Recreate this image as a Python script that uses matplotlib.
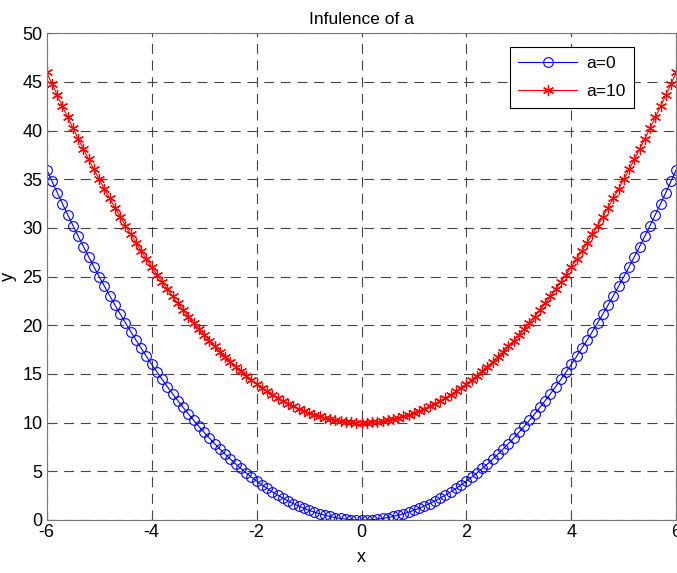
import matplotlib
matplotlib.use("Agg")
import matplotlib.pyplot as plt

plt.rcParams['font.family'] = ['Liberation Sans', 'DejaVu Sans']

# x from -6 to 6, step 0.1
x = [-6.0, -5.9, -5.8, -5.7, -5.6, -5.5, -5.4, -5.3, -5.2, -5.1,
     -5.0, -4.9, -4.8, -4.7, -4.6, -4.5, -4.4, -4.3, -4.2, -4.1,
     -4.0, -3.9, -3.8, -3.7, -3.6, -3.5, -3.4, -3.3, -3.2, -3.1,
     -3.0, -2.9, -2.8, -2.7, -2.6, -2.5, -2.4, -2.3, -2.2, -2.1,
     -2.0, -1.9, -1.8, -1.7, -1.6, -1.5, -1.4, -1.3, -1.2, -1.1,
     -1.0, -0.9, -0.8, -0.7, -0.6, -0.5, -0.4, -0.3, -0.2, -0.1,
     0.0,
     0.1, 0.2, 0.3, 0.4, 0.5, 0.6, 0.7, 0.8, 0.9, 1.0,
     1.1, 1.2, 1.3, 1.4, 1.5, 1.6, 1.7, 1.8, 1.9, 2.0,
     2.1, 2.2, 2.3, 2.4, 2.5, 2.6, 2.7, 2.8, 2.9, 3.0,
     3.1, 3.2, 3.3, 3.4, 3.5, 3.6, 3.7, 3.8, 3.9, 4.0,
     4.1, 4.2, 4.3, 4.4, 4.5, 4.6, 4.7, 4.8, 4.9, 5.0,
     5.1, 5.2, 5.3, 5.4, 5.5, 5.6, 5.7, 5.8, 5.9, 6.0]

y_a0 = [36.0, 34.81, 33.64, 32.49, 31.36, 30.25, 29.16, 28.09, 27.04, 26.01,
        25.0, 24.01, 23.04, 22.09, 21.16, 20.25, 19.36, 18.49, 17.64, 16.81,
        16.0, 15.21, 14.44, 13.69, 12.96, 12.25, 11.56, 10.89, 10.24, 9.61,
        9.0, 8.41, 7.84, 7.29, 6.76, 6.25, 5.76, 5.29, 4.84, 4.41,
        4.0, 3.61, 3.24, 2.89, 2.56, 2.25, 1.96, 1.69, 1.44, 1.21,
        1.0, 0.81, 0.64, 0.49, 0.36, 0.25, 0.16, 0.09, 0.04, 0.01,
        0.0,
        0.01, 0.04, 0.09, 0.16, 0.25, 0.36, 0.49, 0.64, 0.81, 1.0,
        1.21, 1.44, 1.69, 1.96, 2.25, 2.56, 2.89, 3.24, 3.61, 4.0,
        4.41, 4.84, 5.29, 5.76, 6.25, 6.76, 7.29, 7.84, 8.41, 9.0,
        9.61, 10.24, 10.89, 11.56, 12.25, 12.96, 13.69, 14.44, 15.21, 16.0,
        16.81, 17.64, 18.49, 19.36, 20.25, 21.16, 22.09, 23.04, 24.01, 25.0,
        26.01, 27.04, 28.09, 29.16, 30.25, 31.36, 32.49, 33.64, 34.81, 36.0]

y_a10 = [46.0, 44.81, 43.64, 42.49, 41.36, 40.25, 39.16, 38.09, 37.04, 36.01,
         35.0, 34.01, 33.04, 32.09, 31.16, 30.25, 29.36, 28.49, 27.64, 26.81,
         26.0, 25.21, 24.44, 23.69, 22.96, 22.25, 21.56, 20.89, 20.24, 19.61,
         19.0, 18.41, 17.84, 17.29, 16.76, 16.25, 15.76, 15.29, 14.84, 14.41,
         14.0, 13.61, 13.24, 12.89, 12.56, 12.25, 11.96, 11.69, 11.44, 11.21,
         11.0, 10.81, 10.64, 10.49, 10.36, 10.25, 10.16, 10.09, 10.04, 10.01,
         10.0,
         10.01, 10.04, 10.09, 10.16, 10.25, 10.36, 10.49, 10.64, 10.81, 11.0,
         11.21, 11.44, 11.69, 11.96, 12.25, 12.56, 12.89, 13.24, 13.61, 14.0,
         14.41, 14.84, 15.29, 15.76, 16.25, 16.76, 17.29, 17.84, 18.41, 19.0,
         19.61, 20.24, 20.89, 21.56, 22.25, 22.96, 23.69, 24.44, 25.21, 26.0,
         26.81, 27.64, 28.49, 29.36, 30.25, 31.16, 32.09, 33.04, 34.01, 35.0,
         36.01, 37.04, 38.09, 39.16, 40.25, 41.36, 42.49, 43.64, 44.81, 46.0]

x_ticks = [-6, -4, -2, 0, 2, 4, 6]
y_ticks = [0, 5, 10, 15, 20, 25, 30, 35, 40, 45, 50]

fig = plt.figure(figsize=(6.77, 5.73), dpi=100)
ax = fig.add_axes([0.069, 0.0925, 0.930, 0.8495])

ax.plot(x, y_a0, color="blue", linewidth=0.8, marker="o", markersize=7,
        markerfacecolor="none", markeredgewidth=0.8, label="a=0")
# matlab-style asterisk marker (6 arms)
ax.plot(x, y_a10, color="red", linewidth=0.8, marker=(6, 2, 0), markersize=8,
        markeredgewidth=0.9, label="a=10")

ax.set_xlim(-6, 6)
ax.set_ylim(0, 50)
ax.set_xticks(x_ticks)
ax.set_yticks(y_ticks)
ax.set_xticklabels([str(t) for t in x_ticks])
ax.tick_params(labelsize=13, direction="in", length=4, color="#555555", pad=3)

ax.grid(True, color="#444444", linestyle=(0, (9, 6)), linewidth=0.8)
for s in ax.spines.values():
    s.set_color("#777777")

ax.set_title("Infulence of a", fontsize=12.5, pad=7)
ax.set_xlabel("x", fontsize=13, labelpad=6)
ax.set_ylabel("y", fontsize=13, labelpad=4)

leg = ax.legend(loc="upper right", bbox_to_anchor=(0.933, 0.971), fontsize=12.5,
                handlelength=3.4, handletextpad=0.5, fancybox=False, framealpha=1,
                edgecolor="black", borderpad=0.5, labelspacing=0.75,
                borderaxespad=0)
leg.get_frame().set_linewidth(0.8)

fig.savefig("out.png", dpi=100)
